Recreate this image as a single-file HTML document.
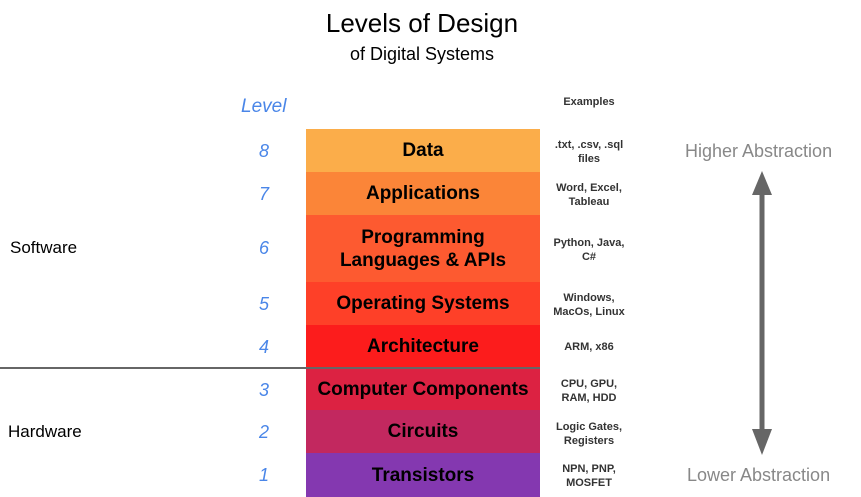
<!DOCTYPE html>
<html><head><style>
body{margin:0;width:861px;height:497px;background:#fff;font-family:"Liberation Sans",Arial,sans-serif;position:relative;overflow:hidden}
.a{position:absolute}
.box{position:absolute;left:306px;width:234px;display:flex;align-items:center;justify-content:center;text-align:center;font-weight:bold;font-size:19px;line-height:23px;color:#000}
.lv{position:absolute;left:250px;width:28px;text-align:center;color:#4a86e8;font-style:italic;font-size:18px}
.ex{position:absolute;left:542px;width:94px;text-align:center;font-weight:bold;font-size:11px;line-height:14px;color:#333}
</style></head><body>
<div class="a" style="left:0;width:844px;top:8px;text-align:center;font-size:26px">Levels of Design</div>
<div class="a" style="left:0;width:844px;top:44px;text-align:center;font-size:18px">of Digital Systems</div>
<div class="a" style="left:241px;top:96px;color:#4a86e8;font-style:italic;font-size:19px">Level</div>
<div class="a" style="left:542px;width:94px;top:96px;text-align:center;font-weight:bold;font-size:11px;color:#333">Examples</div>

<div class="box" style="top:129px;height:43px;background:#fbad4a">Data</div>
<div class="box" style="top:172px;height:43px;background:#fb8538">Applications</div>
<div class="box" style="top:215px;height:67px;background:#fd5a30">Programming<br>Languages &amp; APIs</div>
<div class="box" style="top:282px;height:43px;background:#fe4028">Operating Systems</div>
<div class="box" style="top:325px;height:43px;background:#fc1c1c">Architecture</div>
<div class="box" style="top:368px;height:42px;background:#dc2242">Computer Components</div>
<div class="box" style="top:410px;height:43px;background:#c2285f">Circuits</div>
<div class="box" style="top:453px;height:44px;background:#8438b0">Transistors</div>

<div class="lv" style="top:141px">8</div>
<div class="lv" style="top:184px">7</div>
<div class="lv" style="top:238px">6</div>
<div class="lv" style="top:294px">5</div>
<div class="lv" style="top:337px">4</div>
<div class="lv" style="top:380px">3</div>
<div class="lv" style="top:422px">2</div>
<div class="lv" style="top:465px">1</div>

<div class="ex" style="top:138px">.txt, .csv, .sql<br>files</div>
<div class="ex" style="top:181px">Word, Excel,<br>Tableau</div>
<div class="ex" style="top:236px">Python, Java,<br>C#</div>
<div class="ex" style="top:291px">Windows,<br>MacOs, Linux</div>
<div class="ex" style="top:340px">ARM, x86</div>
<div class="ex" style="top:377px">CPU, GPU,<br>RAM, HDD</div>
<div class="ex" style="top:420px">Logic Gates,<br>Registers</div>
<div class="ex" style="top:462px">NPN, PNP,<br>MOSFET</div>

<div class="a" style="left:10px;top:238px;font-size:17px">Software</div>
<div class="a" style="left:8px;top:422px;font-size:17px">Hardware</div>
<div class="a" style="left:0;top:367px;width:540px;height:2px;background:#666"></div>

<div class="a" style="left:685px;top:141px;font-size:18px;color:#888">Higher Abstraction</div>
<div class="a" style="left:687px;top:465px;font-size:18px;color:#888">Lower Abstraction</div>
<svg class="a" style="left:740px;top:165px" width="44" height="300">
<line x1="22" y1="22" x2="22" y2="268" stroke="#666" stroke-width="5"/>
<polygon points="22,6 12,30 32,30" fill="#666"/>
<polygon points="22,290 12,264 32,264" fill="#666"/>
</svg>
</body></html>
